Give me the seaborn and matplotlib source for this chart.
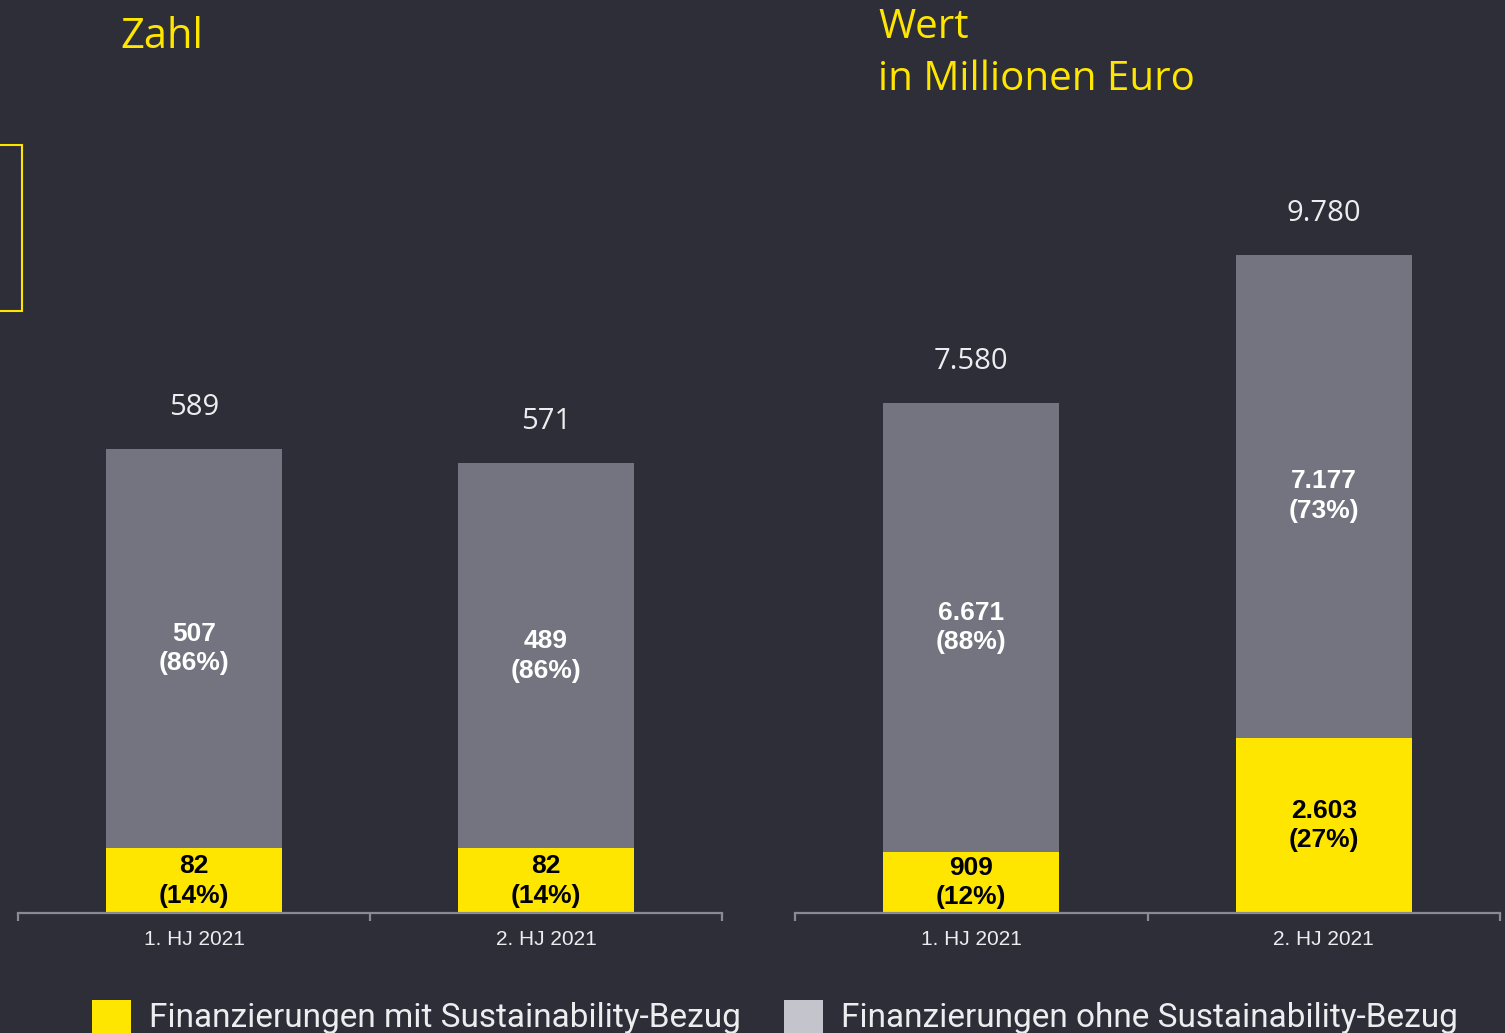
import matplotlib
matplotlib.use("Agg")
import matplotlib.pyplot as plt
from matplotlib.patches import Patch, Rectangle
import seaborn as sns

# data
categories = ["1. HJ 2021", "2. HJ 2021"]
count_with = [82, 82]
count_without = [507, 489]
count_pct_with = [14, 14]
count_pct_without = [86, 86]
value_with = [909, 2603]
value_without = [6671, 7177]
value_pct_with = [12, 27]
value_pct_without = [88, 73]

bg = "#2e2e38"
yellow = "#ffe600"
grey = "#747480"
light_grey = "#c4c4cd"
text_light = "#ededf0"

sns.set_theme(style="white")
plt.rcParams["font.family"] = ["Open Sans", "DejaVu Sans"]


def de(v):
    return f"{v:,}".replace(",", ".")


def draw_panel(ax, with_vals, without_vals, pct_with, pct_without, ytop):
    totals = [a + b for a, b in zip(with_vals, without_vals)]
    sns.barplot(x=categories, y=totals, color=grey, width=0.5, saturation=1,
                errorbar=None, linewidth=0, ax=ax)
    sns.barplot(x=categories, y=with_vals, color=yellow, width=0.5, saturation=1,
                errorbar=None, linewidth=0, ax=ax)
    ax.set_facecolor(bg)
    ax.set_xlim(-0.5, 1.5)
    ax.set_ylim(0, ytop)
    ax.set_yticks([])
    ax.set_ylabel("")
    for s in ["top", "left", "right"]:
        ax.spines[s].set_visible(False)
    ax.spines["bottom"].set_color("#8a8a94")
    ax.spines["bottom"].set_linewidth(1.6)
    ax.set_xticks([0, 1])
    ax.set_xticklabels(categories, color=text_light, fontsize=15,
                       family=["Liberation Sans", "DejaVu Sans"])
    ax.tick_params(axis="x", which="major", bottom=True, length=0, pad=12)
    ax.set_xticks([-0.5, 0.5, 1.5], minor=True)
    ax.tick_params(axis="x", which="minor", bottom=True, length=6, width=1.6,
                   color="#8a8a94", direction="out")

    for i in range(len(categories)):
        w, wo, t = with_vals[i], without_vals[i], totals[i]
        ax.text(i, w / 2, f"{de(w)}\n({pct_with[i]}%)", ha="center", va="center",
                color="black", fontsize=19, fontweight="bold", linespacing=1.3,
                family=["Liberation Sans", "DejaVu Sans"])
        ax.text(i, w + wo / 2, f"{de(wo)}\n({pct_without[i]}%)", ha="center",
                va="center", color="white", fontsize=19, fontweight="bold",
                linespacing=1.3, family=["Liberation Sans", "DejaVu Sans"])
        ax.annotate(de(t), (i, t), xytext=(0, 30), textcoords="offset points",
                    ha="center", va="center", color=text_light, fontsize=21)


fig = plt.figure(figsize=(15.05, 10.33), dpi=100, facecolor=bg)
ax1 = fig.add_axes([18 / 1505, 120 / 1033, 704 / 1505, 768 / 1033])
ax2 = fig.add_axes([795 / 1505, 120 / 1033, 705 / 1505, 768 / 1033])

draw_panel(ax1, count_with, count_without, count_pct_with, count_pct_without, 974.6)
draw_panel(ax2, value_with, value_without, value_pct_with, value_pct_without, 11412)

# titles
fig.text(120 / 1505, 1 - 48 / 1033, "Zahl", color=yellow, fontsize=30,
         ha="left", va="baseline")
fig.text(878 / 1505, 1 - 38 / 1033, "Wert", color=yellow, fontsize=29,
         ha="left", va="baseline")
fig.text(878 / 1505, 1 - 90 / 1033, "in Millionen Euro", color=yellow, fontsize=29,
         ha="left", va="baseline")

# decorative outline on the left edge
fig.patches.append(Rectangle((-0.01, 1 - 311 / 1033), 22 / 1505 + 0.01, 166 / 1033,
                             transform=fig.transFigure, fill=False,
                             edgecolor=yellow, linewidth=1.5))

handles = [Patch(facecolor=yellow, edgecolor="none"),
           Patch(facecolor=light_grey, edgecolor="none")]
labels = ["Finanzierungen mit Sustainability-Bezug",
          "Finanzierungen ohne Sustainability-Bezug"]
leg = fig.legend(handles, labels, loc="center", bbox_to_anchor=(0.515, 0.0155),
                 ncol=2, frameon=False, handlelength=1.15,
                 handleheight=1.15, handletextpad=0.55, columnspacing=1.3,
                 prop={"family": ["Roboto", "DejaVu Sans"], "size": 24})
for t in leg.get_texts():
    t.set_color(text_light)

fig.savefig("out.png", dpi=100, facecolor=bg)
